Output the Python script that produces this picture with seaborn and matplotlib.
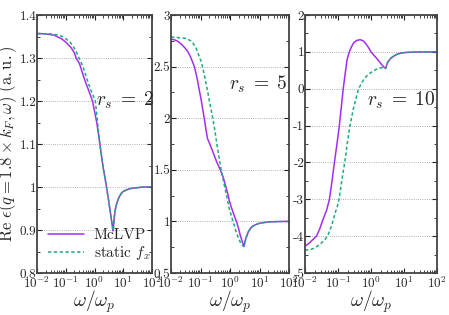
import numpy as np
import pandas as pd
import matplotlib
matplotlib.use('Agg')
import matplotlib.pyplot as plt
import matplotlib.ticker as mticker
import seaborn as sns

# ---- data ----
# r_s = 2
w2_mc = [0.01, 0.02, 0.04, 0.07, 0.1, 0.15, 0.2, 0.23, 0.3, 0.45, 0.6, 0.85, 1.2, 1.5, 2.0,
         2.4, 3.0, 3.5, 4.0, 4.25, 4.4, 4.6, 4.8, 5.2, 6, 7, 8.5, 10, 15, 20, 50, 100]
e2_mc = [1.357, 1.356, 1.353, 1.345, 1.337, 1.325, 1.312, 1.300, 1.287, 1.250, 1.228, 1.200,
         1.150, 1.105, 1.045, 1.015, 0.975, 0.945, 0.918, 0.905, 0.898, 0.910, 0.925, 0.945,
         0.963, 0.975, 0.985, 0.990, 0.995, 0.997, 1.0, 1.0]
w2_st = [0.01, 0.03, 0.05, 0.076, 0.1, 0.15, 0.22, 0.29, 0.4, 0.55, 0.75, 1.07, 1.5, 2.0,
         2.4, 3.0, 3.5, 4.0, 4.25, 4.4, 4.6, 4.8, 5.2, 6, 7, 8.5, 10, 15, 20, 50, 100]
e2_st = [1.357, 1.356, 1.354, 1.350, 1.345, 1.335, 1.318, 1.300, 1.280, 1.250, 1.225, 1.200,
         1.105, 1.045, 1.015, 0.975, 0.945, 0.918, 0.905, 0.898, 0.910, 0.925, 0.945,
         0.963, 0.975, 0.985, 0.990, 0.995, 0.997, 1.0, 1.0]

# r_s = 5
w5_mc = [0.01, 0.013, 0.017, 0.022, 0.03, 0.038, 0.045, 0.053, 0.062, 0.075, 0.09, 0.105,
         0.12, 0.134, 0.155, 0.174, 0.2, 0.25, 0.3, 0.35, 0.42, 0.5, 0.6, 0.7, 0.82, 0.95,
         1.1, 1.3, 1.5, 1.7, 2.0, 2.2, 2.5, 2.95, 3.2, 3.5, 4.2, 5, 6, 7, 8.5, 10, 15, 20, 50, 100]
e5_mc = [2.766, 2.76, 2.745, 2.72, 2.68, 2.64, 2.60, 2.55, 2.50, 2.40, 2.28, 2.18,
         2.08, 2.00, 1.88, 1.80, 1.76, 1.69, 1.63, 1.58, 1.53, 1.48, 1.42, 1.35, 1.28, 1.20,
         1.14, 1.08, 1.03, 0.99, 0.92, 0.87, 0.82, 0.757, 0.80, 0.84, 0.90, 0.935, 0.955, 0.965,
         0.975, 0.982, 0.990, 0.995, 0.999, 1.0]
w5_st = [0.01, 0.02, 0.03, 0.04, 0.047, 0.058, 0.07, 0.08, 0.09, 0.105, 0.117, 0.135, 0.15,
         0.175, 0.2, 0.23, 0.26, 0.3, 0.35, 0.42, 0.5, 0.6, 0.7, 0.82, 0.95, 1.1, 1.26, 1.5,
         1.7, 2.0, 2.3, 2.6, 2.95, 3.2, 3.5, 4.2, 5, 6, 7, 8.5, 10, 15, 20, 50, 100]
e5_st = [2.786, 2.78, 2.775, 2.76, 2.75, 2.72, 2.68, 2.64, 2.60, 2.55, 2.50, 2.42, 2.35,
         2.26, 2.17, 2.08, 2.00, 1.90, 1.77, 1.63, 1.50, 1.39, 1.30, 1.21, 1.12, 1.06, 1.00, 0.93,
         0.88, 0.83, 0.79, 0.77, 0.757, 0.80, 0.84, 0.90, 0.935, 0.955, 0.965, 0.975, 0.982,
         0.990, 0.995, 0.999, 1.0]

# r_s = 10
w10_mc = [0.01, 0.013, 0.017, 0.0224, 0.028, 0.035, 0.045, 0.055, 0.066, 0.078, 0.093, 0.11,
          0.126, 0.144, 0.17, 0.19, 0.22, 0.26, 0.3, 0.37, 0.47, 0.58, 0.7, 0.85, 1.0, 1.25,
          1.5, 2.0, 2.5, 2.78, 2.95, 3.2, 4, 5, 6, 8, 10, 20, 50, 100]
e10_mc = [-4.27, -4.2, -4.1, -4.0, -3.8, -3.55, -3.3, -3.0, -2.5, -2.0, -1.5, -1.0,
          -0.5, 0.0, 0.5, 0.8, 1.0, 1.15, 1.25, 1.31, 1.33, 1.30, 1.22, 1.11, 1.0, 0.9,
          0.82, 0.68, 0.58, 0.55, 0.62, 0.72, 0.83, 0.89, 0.93, 0.965, 0.98, 0.995, 1.0, 1.0]
w10_st = [0.01, 0.015, 0.02, 0.03, 0.04, 0.051, 0.065, 0.08, 0.095, 0.11, 0.13, 0.16, 0.19,
          0.23, 0.3, 0.42, 0.6, 0.8, 1.17, 1.6, 2.2, 2.78, 2.95, 3.2, 4, 5, 6, 8, 10, 20, 50, 100]
e10_st = [-4.38, -4.36, -4.32, -4.2, -4.1, -3.95, -3.7, -3.4, -3.2, -2.95, -2.5, -2.0, -1.5,
          -1.0, -0.5, 0.0, 0.25, 0.38, 0.48, 0.55, 0.57, 0.55, 0.62, 0.72, 0.83, 0.89, 0.93,
          0.965, 0.98, 0.995, 1.0, 1.0]

panels = [
    (2, w2_mc, e2_mc, w2_st, e2_st, (0.8, 1.4), 0.1),
    (5, w5_mc, e5_mc, w5_st, e5_st, (0.5, 3.0), 0.5),
    (10, w10_mc, e10_mc, w10_st, e10_st, (-5, 2), 1),
]
text_pos = [(0.77, 0.67), (0.74, 0.73), (0.73, 0.67)]

sns.set_style('ticks')
plt.rcParams['font.family'] = ['cmr10', 'DejaVu Serif']
plt.rcParams['mathtext.fontset'] = 'cm'
plt.rcParams['axes.unicode_minus'] = False
plt.rcParams['axes.formatter.use_mathtext'] = True

purple = '#a22ef0'
green = '#1daa7c'

fig = plt.figure(figsize=(4.49, 3.15), dpi=100)
W, H = 449, 315
boxes = [(37, 152), (171, 289), (305, 437)]
top, bottom = 15, 273

for i, (rs, wm, em, ws, es, ylim, step) in enumerate(panels):
    x0, x1 = boxes[i]
    ax = fig.add_axes([x0 / W, (H - bottom) / H, (x1 - x0) / W, (bottom - top) / H])
    df = pd.concat([
        pd.DataFrame({'w': wm, 'eps': em, 'model': 'McLVP'}),
        pd.DataFrame({'w': ws, 'eps': es, 'model': 'static $f_x$'}),
    ])
    sns.lineplot(data=df, x='w', y='eps', hue='model', style='model',
                 palette=[purple, green], dashes=[(None, None), (2.2, 1.6)],
                 linewidth=1.1, ax=ax, legend=(i == 0), sort=False)
    ax.set_xscale('log')
    ax.set_xlim(1e-2, 1e2)
    ax.set_ylim(*ylim)
    ax.yaxis.set_major_locator(mticker.MultipleLocator(step))
    ax.yaxis.set_minor_locator(mticker.MultipleLocator(step / 2))
    ax.yaxis.set_major_formatter(mticker.FormatStrFormatter('%g'))
    ax.xaxis.set_major_locator(mticker.LogLocator(base=10, numticks=10))
    ax.xaxis.set_minor_locator(mticker.LogLocator(base=10, subs=np.arange(2, 10), numticks=10))
    ax.xaxis.set_minor_formatter(mticker.NullFormatter())
    ax.grid(axis='y', which='major', linestyle=':', color='#999999', linewidth=0.6)
    ax.tick_params(which='both', direction='in', top=True, right=True, labelsize=9.5,
                   color='#222222', pad=1.5)
    ax.tick_params(axis='y', pad=0.5)
    ax.tick_params(which='major', length=3.5, width=0.8)
    ax.tick_params(which='minor', length=2, width=0.6)
    for s in ax.spines.values():
        s.set_linewidth(1.3)
        s.set_color('#444444')
    ax.set_xlabel(r'$\omega/\omega_p$', fontsize=14, labelpad=-1.5)
    ax.set_ylabel('')
    ax.text(*text_pos[i], r'$r_s\;=\;%d$' % rs, transform=ax.transAxes, fontsize=14,
            ha='center', va='center')
    if i == 0:
        ax.set_ylabel(r'$\mathrm{Re}\ \epsilon(q=1.8\times k_F,\omega)\ \mathrm{(a.u.)}$',
                      fontsize=12, labelpad=0)
        ax.legend(loc='lower left', frameon=False, fontsize=11, handlelength=2.4,
                  borderaxespad=0.3, labelspacing=0.15, handletextpad=0.6)

fig.savefig('out.png', dpi=100)
